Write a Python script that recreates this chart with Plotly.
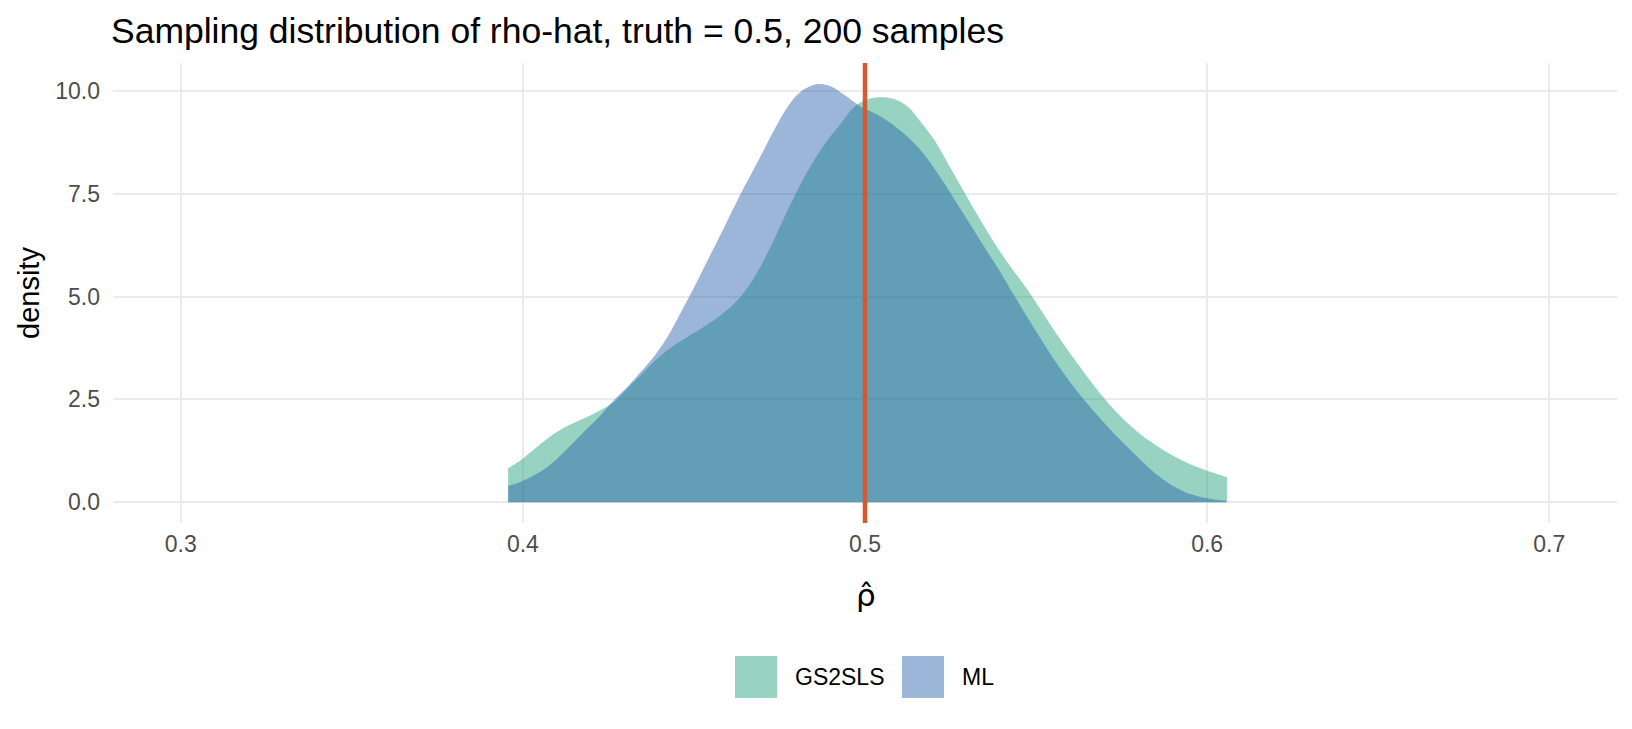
import plotly.graph_objects as go

# --- values ---
truth = 0.5
title = "Sampling distribution of rho-hat, truth = 0.5, 200 samples"

gs2sls_rho = [0.3957, 0.3994, 0.4033, 0.4072, 0.4111, 0.4150, 0.4189, 0.4228, 0.4267, 0.4306,
              0.4345, 0.4384, 0.4423, 0.4462, 0.4501, 0.4540, 0.4579, 0.4618, 0.4657, 0.4696,
              0.4735, 0.4774, 0.4813, 0.4852, 0.4891, 0.4930, 0.4969, 0.5008, 0.5047, 0.5086,
              0.5125, 0.5164, 0.5203, 0.5242, 0.5281, 0.5320, 0.5398, 0.5476, 0.5515, 0.5573,
              0.5632, 0.5690, 0.5749, 0.5807, 0.5865, 0.5924, 0.5982, 0.6058]
gs2sls_density = [0.83, 1.03, 1.29, 1.55, 1.77, 1.93, 2.08, 2.24, 2.44, 2.77,
                  3.09, 3.42, 3.70, 3.92, 4.12, 4.32, 4.55, 4.83, 5.22, 5.75,
                  6.40, 7.10, 7.75, 8.32, 8.80, 9.21, 9.61, 9.79, 9.84, 9.79,
                  9.61, 9.23, 8.80, 8.24, 7.67, 7.10, 6.05, 5.15, 4.66, 3.93,
                  3.25, 2.62, 2.07, 1.64, 1.31, 1.03, 0.82, 0.61]

ml_rho = [0.3957, 0.3994, 0.4033, 0.4072, 0.4111, 0.4150, 0.4189, 0.4228, 0.4267, 0.4306,
          0.4345, 0.4384, 0.4423, 0.4462, 0.4501, 0.4540, 0.4589, 0.4637, 0.4686, 0.4735,
          0.4774, 0.4813, 0.4862, 0.4901, 0.4939, 0.4988, 0.5047, 0.5105, 0.5164, 0.5222,
          0.5281, 0.5339, 0.5398, 0.5427, 0.5495, 0.5554, 0.5612, 0.5670, 0.5729, 0.5787,
          0.5846, 0.5904, 0.5963, 0.6021, 0.6056]
ml_density = [0.40, 0.50, 0.66, 0.86, 1.15, 1.47, 1.80, 2.12, 2.49, 2.81,
              3.17, 3.55, 4.02, 4.62, 5.23, 5.88, 6.69, 7.50, 8.27, 9.05,
              9.61, 9.98, 10.16, 10.10, 9.90, 9.61, 9.37, 9.02, 8.54, 7.87,
              7.10, 6.33, 5.56, 5.15, 4.22, 3.45, 2.78, 2.20, 1.66, 1.18,
              0.72, 0.38, 0.17, 0.07, 0.04]

x_ticks = [0.3, 0.4, 0.5, 0.6, 0.7]
y_ticks = [0.0, 2.5, 5.0, 7.5, 10.0]

series = [
    ("GS2SLS", gs2sls_rho, gs2sls_density, "rgba(27,158,119,0.45)"),
    ("ML", ml_rho, ml_density, "rgba(34,94,168,0.45)"),
]

# --- page geometry (pixels) ---
W, H = 1632, 729
L, R, T, B = 105, 23, 55, 214
pw, ph = W - L - R, H - T - B


def px(x):
    return (x - L) / pw


def py(y):
    return (H - B - y) / ph


fig = go.Figure()
for name, xs, ys, col in series:
    fig.add_trace(go.Scatter(
        x=xs, y=ys, name=name, mode="lines", fill="tozeroy",
        fillcolor=col, line=dict(width=0, shape="spline", smoothing=1.0),
        showlegend=False, hoverinfo="x+y+name",
    ))

fig.add_vline(x=truth, line=dict(color="#D65A31", width=4.5))

# --- legend drawn by hand (big square keys like ggplot) ---
key_left = [727, 894]
text_left = [785, 952]
for (name, _, _, col), kx, tx in zip(series, key_left, text_left):
    fig.add_shape(type="rect", xref="paper", yref="paper",
                  x0=px(kx), x1=px(kx + 42), y0=py(690), y1=py(648),
                  fillcolor=col, line=dict(width=0))
    fig.add_annotation(text=name, xref="paper", yref="paper",
                       x=px(tx), y=py(669), xanchor="left", yanchor="middle",
                       showarrow=False, font=dict(size=23, color="black"))

# axis titles
fig.add_annotation(text="density", xref="paper", yref="paper", x=px(21), y=0.5,
                   textangle=-90, showarrow=False, xanchor="center", yanchor="middle",
                   font=dict(size=29, color="black"))
fig.add_annotation(text="ρ\u0302", xref="paper", yref="paper", x=px(858), y=py(587),
                   showarrow=False, xanchor="center", yanchor="middle",
                   font=dict(size=31, color="black", family="DejaVu Sans"))

fig.update_layout(
    width=W, height=H,
    margin=dict(l=L, r=R, t=T, b=B),
    paper_bgcolor="white", plot_bgcolor="white",
    font=dict(family="Liberation Sans, Arial, sans-serif"),
    title=dict(text=title, x=103 / W, xref="container", xanchor="left",
               y=1 - 23 / H, yref="container", yanchor="middle",
               font=dict(size=35.5, color="black")),
)
fig.update_xaxes(range=[0.2802, 0.7198], tickvals=x_ticks, tickformat=".1f",
                 showgrid=True, gridcolor="#EBEBEB", gridwidth=2, zeroline=False,
                 showline=False, ticks="", ticklabelstandoff=5,
                 tickfont=dict(size=23, color="#4D4D4D"))
fig.update_yaxes(range=[-0.503, 10.673], tickvals=y_ticks, tickformat=".1f",
                 showgrid=True, gridcolor="#EBEBEB", gridwidth=2, zeroline=False,
                 showline=False, ticks="", ticklabelstandoff=12,
                 tickfont=dict(size=23, color="#4D4D4D"))

fig.write_html("out.html")
